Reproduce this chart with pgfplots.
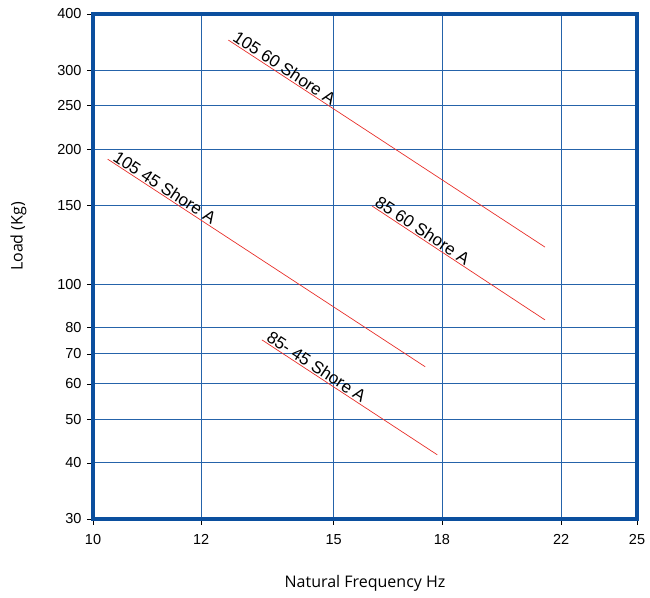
\documentclass[border=0pt]{standalone}
\usepackage{fontspec}
\setmainfont{Liberation Sans}
\newfontfamily\labelfont{Open Sans}
\usepackage{pgfplots}
\pgfplotsset{compat=1.18}
\definecolor{frameblue}{HTML}{0B4F9E}
\definecolor{gridblue}{HTML}{2563AA}
\definecolor{linered}{HTML}{E8302A}
\begin{document}
\begin{tikzpicture}
\begin{axis}[
  xmode=log, ymode=log,
  scale only axis,
  width=544pt, height=505pt,
  xmin=10, xmax=25, ymin=30, ymax=400,
  xtick={10,12,15,18,22,25},
  xticklabels={10,12,15,18,22,25},
  ytick={30,40,50,60,70,80,100,150,200,250,300,400},
  yticklabels={30,40,50,60,70,80,100,150,200,250,300,400},
  minor xtick={}, minor ytick={},
  grid=major,
  major grid style={line width=0.9pt, gridblue},
  axis line style={line width=4pt, frameblue},
  tick align=outside, tick pos=left,
  major tick length=6pt,
  tick style={black, line width=0.6pt},
  ticklabel style={font=\fontsize{14.5}{16}\selectfont},
  xticklabel style={yshift=-6pt},
  yticklabel style={xshift=-2pt},
  xlabel={\labelfont\fontsize{16}{19}\selectfont Natural Frequency Hz},
  ylabel={\labelfont\fontsize{16}{19}\selectfont Load (Kg)},
  xlabel style={yshift=-24pt},
  ylabel style={yshift=24pt, xshift=30pt},
  clip=false,
]
\addplot[linered, line width=0.7pt, no marks] coordinates {(12.56,350) (21.41,121)}
  node[pos=0, sloped, anchor=south west, black, inner sep=1pt, xshift=2pt, font=\fontsize{17}{19}\selectfont] {105 60 Shore A};
\addplot[linered, line width=0.7pt, no marks] coordinates {(16.0,149.4) (21.41,83.3)}
  node[pos=0, sloped, anchor=south west, black, inner sep=1pt, font=\fontsize{17}{19}\selectfont] {85 60 Shore A};
\addplot[linered, line width=0.7pt, no marks] coordinates {(10.25,190) (17.5,65.5)}
  node[pos=0, sloped, anchor=south west, black, inner sep=1pt, xshift=3pt, font=\fontsize{17}{19}\selectfont] {105 45 Shore A};
\addplot[linered, line width=0.7pt, no marks] coordinates {(13.29,75.2) (17.86,41.7)}
  node[pos=0, sloped, anchor=south west, black, inner sep=1pt, xshift=2pt, font=\fontsize{17}{19}\selectfont] {85- 45 Shore A};
\end{axis}
\pgfresetboundingbox
\path ([shift={(-93pt,-78pt)}]current axis.south west) rectangle ([shift={(13pt,14pt)}]current axis.north east);
\end{tikzpicture}
\end{document}
